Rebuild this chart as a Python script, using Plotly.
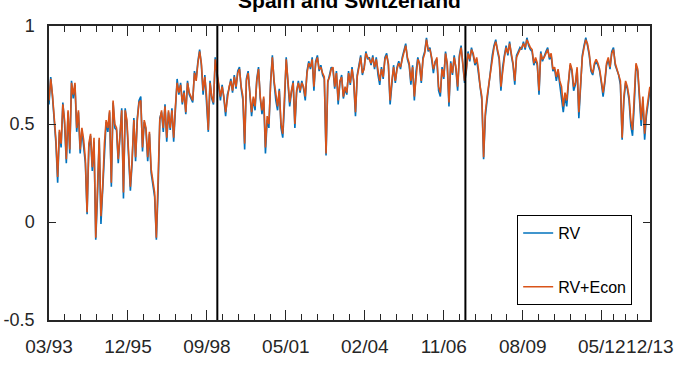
import pandas as pd
import plotly.graph_objects as go

# ---- data ----
start_date = "1993-03-01"
end_date = "2013-12-31"
break_dates = ["1999-01-01", "2007-08-09"]
tick_labels = ["03/93", "12/95", "09/98", "05/01", "02/04", "11/06", "08/09", "05/12", "12/13"]
y_ticks = [-0.5, 0, 0.5, 1]
y_tick_text = ["-0.5", "0", "0.5", "1"]

rv_econ = [
    0.62, 0.73, 0.65, 0.55, 0.42, 0.23, 0.47, 0.40, 0.60, 0.52, 0.32, 0.57, 0.37, 0.71, 0.65, 0.71, 0.48, 0.57, 0.37, 0.48,
    0.42, 0.32, 0.05, 0.40, 0.45, 0.28, 0.43, -0.08, 0.15, 0.43, 0.03, 0.18, 0.40, 0.52, 0.48, 0.57, 0.20, 0.62,
    0.50, 0.48, 0.32, 0.43, 0.57, 0.15, 0.57, 0.52, 0.32, 0.18, 0.32, 0.52, 0.33, 0.52, 0.61, 0.62, 0.38, 0.52, 0.48, 0.33,
    0.46, 0.27, 0.21, 0.15, -0.08, 0.18, 0.52, 0.57, 0.48, 0.59, 0.43, 0.57, 0.48, 0.57, 0.43, 0.59, 0.71, 0.66, 0.70, 0.61,
    0.66, 0.56, 0.71, 0.66, 0.64, 0.62,
    0.76, 0.72, 0.81, 0.87, 0.81, 0.67, 0.74, 0.64, 0.47, 0.71, 0.64, 0.61, 0.83, 0.76, 0.71, 0.64, 0.69, 0.64, 0.56, 0.64,
    0.69, 0.72, 0.67, 0.74, 0.69, 0.76, 0.78, 0.69, 0.64, 0.40, 0.72, 0.76, 0.67, 0.56, 0.64, 0.59, 0.72, 0.78, 0.64, 0.57,
    0.64, 0.38, 0.54,
    0.50, 0.71, 0.84, 0.72, 0.64, 0.59, 0.67, 0.50, 0.45, 0.61, 0.83, 0.72, 0.61, 0.67, 0.71, 0.50, 0.67, 0.71, 0.67, 0.71,
    0.69, 0.64, 0.76, 0.81, 0.79, 0.83, 0.69, 0.81, 0.84, 0.78, 0.79, 0.76, 0.74, 0.35, 0.72, 0.74, 0.78, 0.79, 0.69, 0.76,
    0.62, 0.72, 0.74, 0.64, 0.69,
    0.66, 0.76, 0.71, 0.78, 0.72, 0.56, 0.74, 0.79, 0.84, 0.76, 0.78, 0.86, 0.84, 0.83, 0.81, 0.84, 0.79, 0.83, 0.76, 0.72,
    0.78, 0.74, 0.83, 0.85, 0.81, 0.62, 0.72, 0.79, 0.72, 0.78, 0.81, 0.79, 0.83, 0.86, 0.90, 0.84, 0.81, 0.72, 0.79, 0.64,
    0.76, 0.83, 0.81, 0.72, 0.83,
    0.86, 0.93, 0.88, 0.88, 0.84, 0.78, 0.81, 0.84, 0.69, 0.66, 0.78, 0.74, 0.86, 0.81, 0.61, 0.81, 0.76, 0.84, 0.79, 0.69,
    0.84, 0.89, 0.81, 0.72, 0.78, 0.86, 0.83, 0.88, 0.86, 0.81, 0.84, 0.78, 0.69, 0.64, 0.33, 0.56, 0.64, 0.71, 0.78, 0.84,
    0.89, 0.92, 0.88, 0.84, 0.69, 0.78, 0.84, 0.89, 0.86,
    0.91, 0.86, 0.81, 0.72, 0.84, 0.86, 0.88, 0.89, 0.91, 0.89, 0.93, 0.91, 0.89, 0.88, 0.81, 0.84, 0.81, 0.67, 0.86, 0.83,
    0.84, 0.86, 0.88, 0.84, 0.86, 0.78, 0.79, 0.74, 0.78, 0.72, 0.69, 0.59, 0.66, 0.62, 0.72, 0.81, 0.78, 0.69, 0.71, 0.79,
    0.56, 0.72, 0.84, 0.89, 0.93, 0.91, 0.86, 0.78, 0.76, 0.81, 0.83, 0.81, 0.78, 0.72, 0.66, 0.72, 0.81, 0.84, 0.79, 0.86,
    0.88, 0.81, 0.78, 0.76, 0.72, 0.43, 0.64, 0.72, 0.69, 0.64, 0.52, 0.47, 0.62, 0.81, 0.78, 0.66, 0.52, 0.64, 0.45, 0.56,
    0.62, 0.69,
]

rv = [
    0.60, 0.74, 0.64, 0.53, 0.40, 0.20, 0.46, 0.38, 0.61, 0.50, 0.30, 0.56, 0.35, 0.72, 0.63, 0.70, 0.46, 0.56, 0.35, 0.47,
    0.40, 0.30, 0.04, 0.38, 0.44, 0.26, 0.41, -0.09, 0.13, 0.42, -0.01, 0.16, 0.38, 0.51, 0.46, 0.56, 0.18, 0.61,
    0.48, 0.47, 0.30, 0.42, 0.58, 0.12, 0.58, 0.50, 0.30, 0.16, 0.30, 0.53, 0.31, 0.53, 0.62, 0.64, 0.36, 0.51, 0.47, 0.31,
    0.45, 0.25, 0.19, 0.13, -0.09, 0.16, 0.53, 0.56, 0.46, 0.60, 0.41, 0.56, 0.47, 0.58, 0.41, 0.60, 0.73, 0.65, 0.71, 0.60,
    0.67, 0.55, 0.72, 0.65, 0.63, 0.61,
    0.77, 0.73, 0.82, 0.88, 0.80, 0.65, 0.75, 0.62, 0.46, 0.72, 0.63, 0.60, 0.84, 0.75, 0.70, 0.62, 0.70, 0.63, 0.54, 0.65,
    0.68, 0.73, 0.66, 0.75, 0.68, 0.77, 0.79, 0.68, 0.62, 0.37, 0.73, 0.77, 0.66, 0.54, 0.63, 0.57, 0.73, 0.79, 0.63, 0.55,
    0.63, 0.35, 0.52,
    0.48, 0.72, 0.85, 0.71, 0.62, 0.57, 0.68, 0.48, 0.43, 0.60, 0.84, 0.71, 0.59, 0.66, 0.72, 0.48, 0.66, 0.72, 0.66, 0.72,
    0.68, 0.62, 0.77, 0.82, 0.78, 0.84, 0.67, 0.82, 0.85, 0.77, 0.80, 0.75, 0.73, 0.34, 0.71, 0.75, 0.79, 0.78, 0.68, 0.77,
    0.60, 0.71, 0.75, 0.63, 0.68,
    0.65, 0.77, 0.70, 0.79, 0.71, 0.54, 0.75, 0.80, 0.85, 0.75, 0.79, 0.87, 0.83, 0.84, 0.80, 0.85, 0.78, 0.84, 0.75, 0.70,
    0.79, 0.73, 0.84, 0.86, 0.80, 0.60, 0.71, 0.80, 0.71, 0.79, 0.82, 0.78, 0.84, 0.87, 0.91, 0.83, 0.80, 0.70, 0.80, 0.62,
    0.77, 0.84, 0.80, 0.71, 0.84,
    0.87, 0.94, 0.87, 0.89, 0.83, 0.76, 0.82, 0.83, 0.67, 0.64, 0.79, 0.73, 0.87, 0.80, 0.59, 0.82, 0.75, 0.85, 0.78, 0.67,
    0.85, 0.90, 0.80, 0.71, 0.77, 0.87, 0.82, 0.89, 0.85, 0.80, 0.83, 0.76, 0.67, 0.62, 0.32, 0.54, 0.62, 0.70, 0.79, 0.85,
    0.90, 0.93, 0.87, 0.83, 0.67, 0.79, 0.85, 0.90, 0.85,
    0.92, 0.85, 0.80, 0.70, 0.85, 0.87, 0.89, 0.88, 0.92, 0.88, 0.94, 0.90, 0.88, 0.87, 0.80, 0.83, 0.80, 0.65, 0.87, 0.82,
    0.85, 0.87, 0.89, 0.83, 0.85, 0.77, 0.78, 0.72, 0.77, 0.70, 0.66, 0.56, 0.64, 0.59, 0.71, 0.80, 0.77, 0.67, 0.70, 0.78,
    0.53, 0.71, 0.85, 0.90, 0.94, 0.90, 0.85, 0.77, 0.75, 0.80, 0.82, 0.80, 0.77, 0.71, 0.64, 0.71, 0.80, 0.83, 0.78, 0.87,
    0.89, 0.80, 0.77, 0.75, 0.70, 0.42, 0.62, 0.71, 0.68, 0.62, 0.49, 0.44, 0.60, 0.80, 0.77, 0.64, 0.49, 0.62, 0.42, 0.54,
    0.60, 0.67,
]

# ---- time axis ----
t0 = pd.Timestamp(start_date)
t1 = pd.Timestamp(end_date)
dates_econ = pd.date_range(t0, t1, periods=len(rv_econ))
dates_rv = pd.date_range(t0, t1, periods=len(rv))

# major ticks every 1000 days, plus the end date
major = [t0 + pd.Timedelta(days=1000 * k) for k in range(8)] + [t1]
minor = []
for a, b in zip(major[:-1], major[1:]):
    n = 5 if (b - a).days >= 1000 else 4
    for j in range(1, n):
        minor.append(a + (b - a) * j / n)

FONT = "Liberation Sans, Arial, sans-serif"
BLUE = "#0072BD"
ORANGE = "#D95319"

fig = go.Figure()
fig.add_trace(go.Scatter(x=dates_rv, y=rv, mode="lines", name="RV",
                         line=dict(color=BLUE, width=1.6), legendgroup="a"))
fig.add_trace(go.Scatter(x=dates_econ, y=rv_econ, mode="lines", name="RV+Econ",
                         line=dict(color=ORANGE, width=1.6), legendgroup="b"))

for d in break_dates:
    fig.add_shape(type="line", xref="x", yref="paper", x0=d, x1=d, y0=0, y1=1,
                  line=dict(color="black", width=2))

fig.update_layout(
    width=674, height=374,
    margin=dict(l=49, r=24, t=26, b=54, autoexpand=False),
    paper_bgcolor="white", plot_bgcolor="white",
    font=dict(family=FONT, color="#262626"),
    title=dict(text="<b>Spain and Switzerland</b>", x=0.5, xref="paper", xanchor="center",
               y=0.978, yref="container", yanchor="bottom",
               font=dict(family=FONT, size=21, color="black")),
    showlegend=True,
    legend=dict(x=0.779, y=0.357, xanchor="left", yanchor="top",
                bgcolor="white", bordercolor="black", borderwidth=1,
                font=dict(family=FONT, size=16, color="black"),
                tracegroupgap=30, itemwidth=30),
    xaxis=dict(
        type="date", range=[t0, t1 + pd.Timedelta(days=2)],
        tickmode="array", tickvals=major, ticktext=tick_labels, tickangle=0,
        ticks="inside", ticklen=10, tickwidth=1, tickcolor="#262626",
        minor=dict(tickmode="array", tickvals=minor, ticks="inside", ticklen=6,
                   tickcolor="#262626", tickwidth=1, showgrid=False),
        showline=True, linecolor="#262626", linewidth=1.5, mirror="ticks",
        showgrid=False, zeroline=False, automargin=False,
        ticklabeloverflow="allow",
        tickfont=dict(family=FONT, size=19, color="#262626"),
        ticklabelstandoff=8,
    ),
    yaxis=dict(
        range=[-0.5, 1], tickmode="array", tickvals=y_ticks, ticktext=y_tick_text,
        ticks="inside", ticklen=7, tickwidth=1, tickcolor="#262626",
        showline=True, linecolor="#262626", linewidth=1.5, mirror="ticks",
        showgrid=False, zeroline=False, automargin=False,
        ticklabeloverflow="allow",
        tickfont=dict(family=FONT, size=18, color="#262626"),
        ticklabelstandoff=9,
    ),
)

fig.write_html("out.html", config={"displayModeBar": False})

# remove the browser's default page margin so the figure sits at the top-left corner
with open("out.html", "r", encoding="utf-8") as f:
    html = f.read()
html = html.replace("<head>", "<head><style>html,body{margin:0;padding:0;overflow:hidden;}</style>", 1)
with open("out.html", "w", encoding="utf-8") as f:
    f.write(html)
